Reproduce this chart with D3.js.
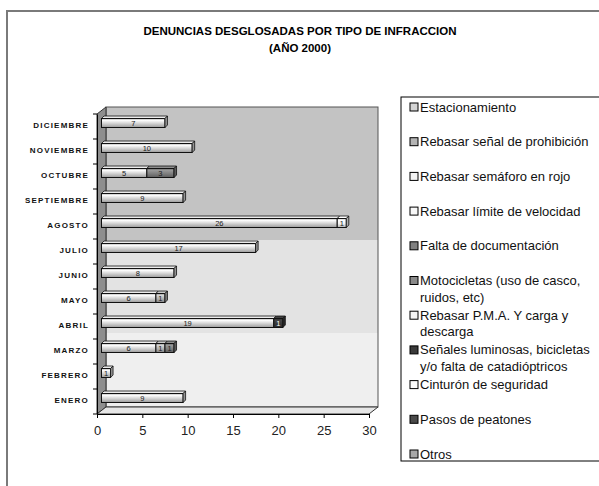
<!DOCTYPE html>
<html><head><meta charset="utf-8">
<script src="https://cdn.jsdelivr.net/npm/d3@7"></script>
<style>body{margin:0;background:#fff}svg{display:block;font-family:"Liberation Sans",Arial,sans-serif}</style>
</head><body><svg id="c" width="599" height="486"></svg>
<script>
const months = ["ENERO","FEBRERO","MARZO","ABRIL","MAYO","JUNIO","JULIO","AGOSTO","SEPTIEMBRE","OCTUBRE","NOVIEMBRE","DICIEMBRE"];
const seriesNames = ["Estacionamiento","Rebasar señal de prohibición","Rebasar semáforo en rojo","Rebasar límite de velocidad","Falta de documentación","Motocicletas (uso de casco, ruidos, etc)","Rebasar P.M.A. Y carga y descarga","Señales luminosas, bicicletas y/o falta de catadióptricos","Cinturón de seguridad","Pasos de peatones","Otros"];
const legendLines = [["Estacionamiento"],["Rebasar señal de prohibición"],["Rebasar semáforo en rojo"],["Rebasar límite de velocidad"],["Falta de documentación"],["Motocicletas (uso de casco,","ruidos, etc)"],["Rebasar P.M.A. Y carga y","descarga"],["Señales luminosas, bicicletas","y/o falta de catadióptricos"],["Cinturón de seguridad"],["Pasos de peatones"],["Otros"]];
const estacionamiento  = [9,1,6,19,6,8,17,26,9,5,10,7];
const rebasarSenal     = [0,0,1,0,1,0,0,0,0,0,0,0];
const rebasarSemaforo  = [0,0,0,0,0,0,0,1,0,0,0,0];
const rebasarLimite    = [0,0,0,0,0,0,0,0,0,0,0,0];
const faltaDoc         = [0,0,1,0,0,0,0,0,0,3,0,0];
const motocicletas     = [0,0,0,0,0,0,0,0,0,0,0,0];
const rebasarPMA       = [0,0,0,0,0,0,0,0,0,0,0,0];
const senales          = [0,0,0,1,0,0,0,0,0,0,0,0];
const cinturon         = [0,0,0,0,0,0,0,0,0,0,0,0];
const pasosPeatones    = [0,0,0,0,0,0,0,0,0,0,0,0];
const otros            = [0,0,0,0,0,0,0,0,0,0,0,0];
const xTicks = [0,5,10,15,20,25,30];
const titleLines = ["DENUNCIAS DESGLOSADAS POR TIPO DE INFRACCION","(AÑO 2000)"];

const seriesVals = [estacionamiento,rebasarSenal,rebasarSemaforo,rebasarLimite,faltaDoc,motocicletas,rebasarPMA,senales,cinturon,pasosPeatones,otros];
const colors = ["#d4d4d4","#b4b4b4","#f4f4f4","#f8f8f8","#808080","#8a8a8a","#f6f6f6","#3a3a3a","#fafafa","#4a4a4a","#a8a8a8"];

const svg = d3.select("#c");
const defs = svg.append("defs");
colors.forEach((c,i)=>{
  const g = defs.append("linearGradient").attr("id","g"+i).attr("x1",0).attr("y1",0).attr("x2",0).attr("y2",1);
  const cc = d3.color(c);
  g.append("stop").attr("offset","0%").attr("stop-color",cc.darker(0.6));
  g.append("stop").attr("offset","20%").attr("stop-color",cc.brighter(0.5));
  g.append("stop").attr("offset","55%").attr("stop-color",c);
  g.append("stop").attr("offset","100%").attr("stop-color",cc.darker(0.9));
});

// outer frame
svg.append("rect").attr("x",7).attr("y",11).attr("width",640).attr("height",520)
  .attr("fill","none").attr("stroke","#7a7a7a").attr("stroke-width",2);

// title
svg.append("g").selectAll("text").data(titleLines).join("text")
  .attr("x",300).attr("y",(d,i)=>35+i*17).attr("text-anchor","middle")
  .attr("font-size",11.5).attr("font-weight","bold").attr("fill","#000").text(d=>d);

const x = d3.scaleLinear().domain([0,30]).range([97,369]);
const y = d3.scaleBand().domain(months).range([414,114]);
const DX = 9, DY = -7;

// back wall bands
const wall = svg.append("g");
wall.append("rect").attr("x",x(0)+DX).attr("y",114+DY).attr("width",x(30)-x(0)).attr("height",240-107).attr("fill","#c3c3c3");
wall.append("rect").attr("x",x(0)+DX).attr("y",240).attr("width",x(30)-x(0)).attr("height",333-240).attr("fill","#e3e3e3");
wall.append("rect").attr("x",x(0)+DX).attr("y",333).attr("width",x(30)-x(0)).attr("height",407-333).attr("fill","#efefef");
wall.append("rect").attr("x",x(0)+DX).attr("y",114+DY).attr("width",x(30)-x(0)).attr("height",300)
  .attr("fill","none").attr("stroke","#555").attr("stroke-width",1);
// left wall
svg.append("polygon").attr("points",[[x(0),114],[x(0)+DX,114+DY],[x(0)+DX,414+DY],[x(0),414]].join(" "))
  .attr("fill","#8e8e8e").attr("stroke","#333");
// floor
svg.append("polygon").attr("points",[[x(0),414],[x(0)+DX,414+DY],[x(30)+DX,414+DY],[x(30),414]].join(" "))
  .attr("fill","#e6e6e6").attr("stroke","#333");

// axes
const xa = svg.append("g").attr("transform","translate(0,414)")
  .call(d3.axisBottom(x).tickValues(xTicks).tickSize(4).tickSizeOuter(0));
xa.select(".domain").attr("stroke","#000");
xa.selectAll("text").attr("font-size",13).attr("font-family","Liberation Sans, Arial").attr("dy","1.05em").attr("fill","#222");
const ya = svg.append("g").attr("transform","translate(97,-1.5)")
  .call(d3.axisLeft(y).tickSize(0).tickPadding(8));
ya.select(".domain").attr("transform","translate(0,1.5)").attr("stroke","#000");
ya.selectAll("text").attr("font-size",8).attr("font-weight","bold").attr("letter-spacing","1.2").attr("fill","#111").attr("dy","0.35em");
// category separator ticks
svg.append("g").selectAll("line").data(d3.range(13)).join("line")
  .attr("x1",93).attr("x2",97).attr("y1",i=>414-i*y.step()).attr("y2",i=>414-i*y.step()).attr("stroke","#000");

// bars
const BH = 9, BD = 2.5;
const bars = svg.append("g");
months.forEach((m,mi)=>{
  let acc = 0;
  const yc = y(m)+y.bandwidth()/2 + DY/2;
  const yt = yc - BH/2;
  const segs = [];
  seriesVals.forEach((vals,si)=>{
    const v = vals[mi];
    if(v>0){ segs.push({si,v,a:acc,b:acc+v}); acc+=v; }
  });
  segs.forEach((s,k)=>{
    const x0 = x(s.a)+DX/2, x1 = x(s.b)+DX/2;
    bars.append("polygon").attr("points",[[x0,yt],[x0+BD,yt-BD],[x1+BD,yt-BD],[x1,yt]].join(" "))
      .attr("fill",d3.color(colors[s.si]).brighter(0.3)).attr("stroke","#111").attr("stroke-width",0.8);
    bars.append("rect").attr("x",x0).attr("y",yt).attr("width",x1-x0).attr("height",BH)
      .attr("fill",`url(#g${s.si})`).attr("stroke","#111").attr("stroke-width",1);
    if(k===segs.length-1){
      bars.append("polygon").attr("points",[[x1,yt],[x1+BD,yt-BD],[x1+BD,yt+BH-BD],[x1,yt+BH]].join(" "))
        .attr("fill",d3.color(colors[s.si]).darker(1)).attr("stroke","#111").attr("stroke-width",0.8);
    }
    bars.append("text").attr("x",(x0+x1)/2).attr("y",yc+2.5).attr("text-anchor","middle")
      .attr("font-size",7.5).attr("fill",s.si===7||s.si===9?"#fff":"#222").text(s.v);
  });
});

// legend
const lg = svg.append("g");
lg.append("rect").attr("x",401).attr("y",97).attr("width",240).attr("height",364)
  .attr("fill","#fff").attr("stroke","#000");
legendLines.forEach((lines,i)=>{
  const ly = 107 + i*34.7;
  lg.append("rect").attr("x",410).attr("y",ly-4).attr("width",8).attr("height",8)
    .attr("fill",colors[i]).attr("stroke","#000").attr("stroke-width",1);
  lines.forEach((t,j)=>{
    lg.append("text").attr("x",420).attr("y",ly+4.5+j*16.5).attr("font-size",13).attr("fill","#111").text(t);
  });
});
</script></body></html>
